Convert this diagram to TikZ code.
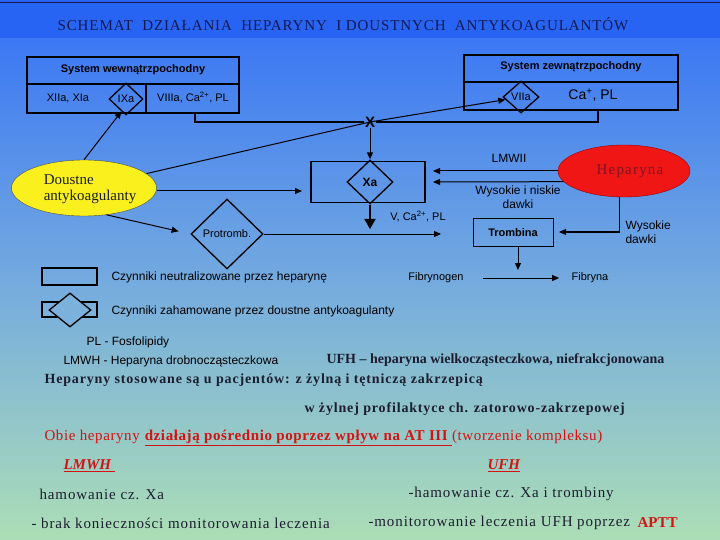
\documentclass[tikz,border=0pt]{standalone}
\usepackage{fontspec}
\setmainfont{Liberation Serif}
\setsansfont{Liberation Sans}
\usetikzlibrary{arrows.meta,shapes.geometric}
\definecolor{bandblue}{RGB}{40,100,244}
\definecolor{topbg}{RGB}{60,120,244}
\definecolor{midbg}{RGB}{118,172,222}
\definecolor{botbg}{RGB}{172,222,182}
\colorlet{legbg}{midbg!90!botbg}
\definecolor{titleink}{RGB}{20,25,80}
\definecolor{ink}{RGB}{28,30,48}
\definecolor{redink}{RGB}{212,18,18}
\definecolor{hepred}{RGB}{240,22,22}
\definecolor{hepink}{RGB}{125,20,35}
\definecolor{doustyellow}{RGB}{250,240,30}

\begin{document}
\begin{tikzpicture}[x=1pt,y=-1pt,
  >={Triangle[length=7pt,width=6pt]},
  fac/.style={font=\sffamily\fontsize{11}{13}\selectfont},
  legtxt/.style={anchor=west,font=\sffamily\fontsize{12}{14}\selectfont},
  facbold/.style={font=\sffamily\bfseries\fontsize{11}{13}\selectfont},
  frame/.style={line width=1.3pt},
  box/.style={draw,line width=1.5pt,inner sep=0pt},
  romb/.style={draw,diamond,line width=1.3pt,inner sep=0pt,font=\sffamily\fontsize{11}{13}\selectfont},
  note/.style={anchor=west,text=ink,font=\bfseries\fontsize{14}{16}\selectfont\addfontfeature{LetterSpace=6}},
  plain/.style={anchor=west,text=ink,font=\fontsize{15}{17}\selectfont\addfontfeature{LetterSpace=6}},
  conn/.style={line width=1pt}]
\useasboundingbox (0,0) rectangle (720,540);
% tlo
\shade[top color=topbg,bottom color=botbg,middle color=midbg] (0,38) rectangle (720,540);
\fill[bandblue] (0,0) rectangle (720,38);
\draw[titleink,line width=1pt] (0,3) -- (720,3);
\node[text=titleink,font=\fontsize{15}{17}\selectfont\addfontfeature{LetterSpace=6}] (title) at (343,24)
  {SCHEMAT\ \ DZIAŁANIA\ \ HEPARYNY\ \ I DOUSTNYCH\ \ ANTYKOAGULANTÓW};

% system wewnatrzpochodny
\draw[frame] (27,57) rectangle (239,113);
\draw[frame] (27,84) -- (239,84);
\draw[frame] (146,84) -- (146,113);
\node[facbold] (wewtitle) at (133,70) {System wewnątrzpochodny};
\node[fac] (xiia) at (68,98) {XIIa, XIa};
\node[romb,minimum width=34pt,minimum height=32pt] (ixa) at (126,99) {IXa};
\node[fac] (viiia) at (193,98) {VIIIa, Ca\textsuperscript{2+}, PL};
\coordinate (wewout) at (195,113);

% system zewnatrzpochodny
\draw[frame] (464,55) rectangle (678,110);
\draw[frame] (464,82) -- (678,82);
\node[facbold] (zewtitle) at (571,67) {System zewnątrzpochodny};
\node[romb,minimum width=36pt,minimum height=32pt] (viia) at (521,97) {VIIa};
\node[fac,font=\sffamily\fontsize{14}{16}\selectfont] (capl) at (593,95) {Ca\textsuperscript{+}, PL};
\coordinate (zewout) at (598,110);

\node[font=\sffamily\bfseries\fontsize{15}{15}\selectfont,inner sep=1pt] (cross) at (370,122) {X};
\draw[frame] (wewout) |- (cross);
\draw[frame] (zewout) |- (cross);

% doustne antykoagulanty
\node[ellipse,draw=black!70,fill=doustyellow,minimum width=145pt,minimum height=56pt] (doustne) at (84,188) {};
\node[align=left,text=ink,font=\fontsize{15}{16}\selectfont] (doustnetxt) at (90,189)
  {Doustne\\antykoagulanty};
\draw[conn,->] (doustne.north) -- (ixa.-110);
\draw[conn,->] (doustne) -- (cross.center) -- (viia);

% Xa
\node[box,minimum width=114pt,minimum height=41pt] (xabox) at (368,182) {};
\node[romb,minimum width=46pt,minimum height=44pt,font=\sffamily\bfseries\fontsize{12}{14}\selectfont] (xa) at (370,182) {Xa};
\coordinate (xain) at (302,191);
\draw[conn,->] (doustne.east |- xain) -- (xain);
\draw[conn,->] (cross) -- (xa);
\coordinate (xaout) at (370,229);
\draw[line width=1.5pt,-{Triangle[length=10pt,width=11pt]}] (xa) -- (xaout);
\node[fac] (vcapl) at (418,217) {V, Ca\textsuperscript{2+}, PL};

% protrombina
\node[romb,minimum width=72pt,minimum height=70pt] (protr) at (227,234) {Protromb.};
\draw[conn,->,shorten >=12pt] (doustne.-50) -- (protr.west);
\coordinate (trin) at (441,234);
\draw[conn,->] (protr.east) -- (trin);

% heparyna
\node[ellipse,draw=red!60!black,fill=hepred,minimum width=132pt,minimum height=52pt] (hep) at (624,171) {};
\node[text=hepink,font=\fontsize{15}{17}\selectfont\addfontfeature{LetterSpace=8}] (heptxt) at (630,171) {Heparyna};
\coordinate (lmwin) at (433,171);
\coordinate (hepin) at (433,182);
\draw[conn,->] (hep.west) -- (lmwin);
\draw[conn,->] (hep.190) -- (hepin);
\node[fac,font=\sffamily\fontsize{12}{14}\selectfont] (lmwlab) at (509,158) {LMWII};
\node[fac,font=\sffamily\fontsize{12}{14}\selectfont,align=center] (wysnisk) at (518,197) {Wysokie i niskie\\dawki};

% trombina
\node[box,line width=1pt,minimum width=80pt,minimum height=27pt,facbold] (tromb) at (513,232.5) {Trombina};
\coordinate (trright) at (559,232);
\draw[conn,->] (hep.-100) |- (trright);
\node[fac,font=\sffamily\fontsize{12}{14}\selectfont,anchor=west,align=left] (wysdawki) at (622,232) {Wysokie\\dawki};
\coordinate (fibmid) at (518,270);
\draw[conn,->] (tromb.south -| fibmid) -- (fibmid);
\node[fac] (fgen) at (436,278) {Fibrynogen};
\node[fac] (fna) at (590,278) {Fibryna};
\draw[conn,->,shorten <=16pt,shorten >=9pt] (fgen) -- (fna);

% legenda
\node[box,line width=1.3pt,minimum width=55pt,minimum height=17pt] (leg1) at (69.5,276.5) {};
\node[legtxt] (leg1txt) at (108,277) {Czynniki neutralizowane przez heparynę};
\node[box,line width=1.3pt,minimum width=55pt,minimum height=15pt] (leg2) at (69.5,309.5) {};
\node[romb,fill=legbg,minimum width=42pt,minimum height=34pt] (leg2romb) at (70,310) {};
\node[legtxt] (leg2txt) at (108,311) {Czynniki zahamowane przez doustne antykoagulanty};
\node[legtxt] (pl) at (83,342) {PL - Fosfolipidy};
\node[legtxt] (lmwh) at (60,361) {LMWH - Heparyna drobnocząsteczkowa};
\node[note,font=\bfseries\fontsize{14}{16}\selectfont] (ufh) at (323,360) {UFH – heparyna wielkocząsteczkowa, niefrakcjonowana};

% tekst
\node[note] (stos) at (41,380) {Heparyny stosowane są u pacjentów: z żylną i tętniczą zakrzepicą};
\node[note] (profil) at (301,409) {w żylnej profilaktyce ch. zatorowo-zakrzepowej};
\node[plain,text=redink,font=\fontsize{15}{17}\selectfont\addfontfeature{LetterSpace=4}] (obie) at (41,438)
  {Obie heparyny \textbf{\underline{działają pośrednio poprzez wpływ na AT III }}(tworzenie kompleksu)};
\node[plain,text=redink,font=\bfseries\itshape\fontsize{15}{17}\selectfont] (lmwhh) at (60,466) {\underline{LMWH }};
\node[plain,text=redink,font=\bfseries\itshape\fontsize{15}{17}\selectfont] (ufhh) at (484,466) {\underline{UFH}};
\node[plain] (ham1) at (36,494) {hamowanie cz. Xa};
\node[plain] (ham2) at (405,494) {-hamowanie cz. Xa i trombiny};
\node[plain] (brak) at (28,523) {- brak konieczności monitorowania leczenia};
\node[plain] (monit) at (365,523) {-monitorowanie leczenia UFH poprzez};
\node[plain,text=redink,font=\bfseries\fontsize{15}{17}\selectfont] (aptt) at (634,523) {APTT};
\end{tikzpicture}
\end{document}
